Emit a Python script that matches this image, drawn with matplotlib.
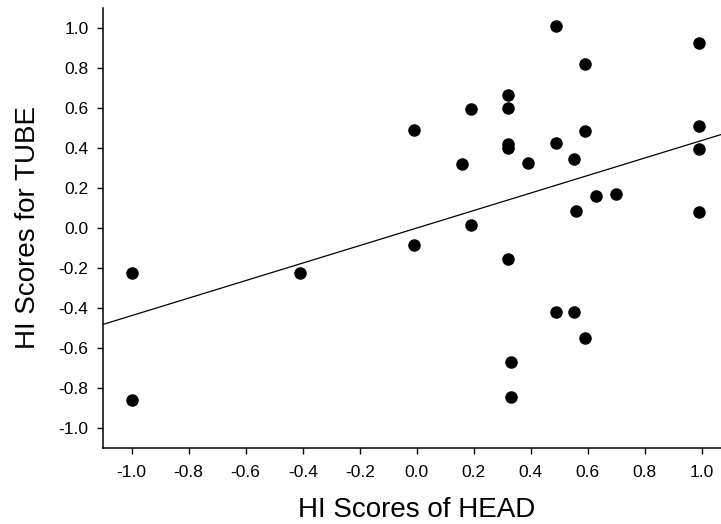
import matplotlib.pyplot as plt
import numpy as np

plt.rcParams['font.family'] = ['Liberation Sans', 'DejaVu Sans']

# HI scores
head = [0.49, 0.99, 0.59, 0.32, 0.32, 0.19, -0.01, 0.99, 0.59, 0.32,
        0.32, 0.49, 0.99, 0.16, 0.39, 0.55, 0.63, 0.70, 0.56, 0.99,
        0.19, -0.01, 0.32, -1.0, -0.41, -1.0, 0.49, 0.55, 0.59, 0.33, 0.33]
tube = [1.01, 0.925, 0.82, 0.665, 0.60, 0.597, 0.489, 0.512, 0.485, 0.422,
        0.40, 0.425, 0.397, 0.322, 0.324, 0.345, 0.162, 0.172, 0.087, 0.082,
        0.012, -0.088, -0.155, -0.228, -0.225, -0.863, -0.422, -0.422, -0.553, -0.673, -0.847]

ticks = np.round(np.arange(-1.0, 1.01, 0.2), 1) + 0.0
tick_labels = [f'{t:.1f}'.replace('-0.0', '0.0') for t in ticks]

fig = plt.figure(figsize=(7.21, 5.24), dpi=100)
ax = fig.add_axes([0.143, 0.1456, 0.857, 0.839])

ax.plot(head, tube, 'o', color='black', markersize=8)

# least squares line across the whole axis
slope, icpt = np.polyfit(head, tube, 1)
xl = np.array([-1.1, 1.07])
ax.plot(xl, slope * xl + icpt, color='black', linewidth=0.9)

ax.set_xlim(-1.1, 1.067)
ax.set_ylim(-1.1, 1.1)
ax.set_xticks(ticks)
ax.set_xticklabels(tick_labels)
ax.set_yticks(ticks)
ax.set_yticklabels(tick_labels)

for s in ['top', 'right']:
    ax.spines[s].set_visible(False)
for s in ['left', 'bottom']:
    ax.spines[s].set_linewidth(1.1)

ax.tick_params(direction='out', length=4.5, width=1, labelsize=12.5)
ax.tick_params(axis='y', pad=6)
ax.tick_params(axis='x', pad=8)

ax.set_xlabel('HI Scores of HEAD', fontsize=20)
ax.set_ylabel('HI Scores for TUBE', fontsize=20)
ax.xaxis.set_label_coords((417 - 103) / 618, -0.112)
ax.yaxis.set_label_coords(-0.1, 0.5)

fig.savefig('out.png', dpi=100)
